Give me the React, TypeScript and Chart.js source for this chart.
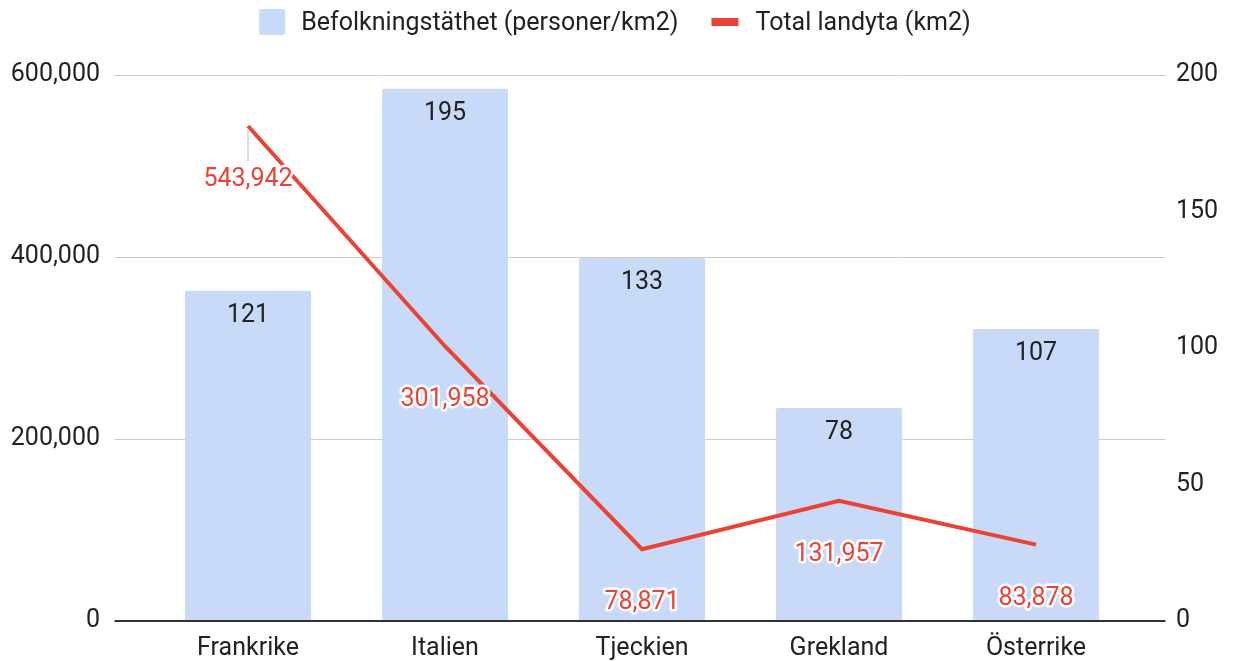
import React, { useEffect, useRef } from "react";
import { Chart, registerables } from "chart.js";

Chart.register(...registerables);

const categories = ["Frankrike", "Italien", "Tjeckien", "Grekland", "Österrike"];
const densityValues = [121, 195, 133, 78, 107];
const areaValues = [543942, 301958, 78871, 131957, 83878];
const densityLabel = "Befolkningstäthet (personer/km2)";
const areaLabel = "Total landyta (km2)";

const BAR_COLOR = "#c9daf8";
const LINE_COLOR = "#ea4335";
const TEXT_COLOR = "#222222";
const FONT = "Roboto";
const FS = 25;

const fmt = (v: number) => v.toLocaleString("en-US");

const legendPlugin = {
  id: "customLegend",
  afterDraw(chart: any) {
    const ctx = chart.ctx;
    ctx.save();
    ctx.font = `${FS}px ${FONT}`;
    const w1 = ctx.measureText(densityLabel).width;
    const w2 = ctx.measureText(areaLabel).width;
    const total = 26 + 16 + w1 + 33 + 27 + 17 + w2;
    let x = 615 - total / 2;
    const cy = 22;
    ctx.fillStyle = BAR_COLOR;
    ctx.beginPath();
    (ctx as any).roundRect(x, cy - 13, 26, 26, 2);
    ctx.fill();
    x += 26 + 16;
    ctx.fillStyle = TEXT_COLOR;
    ctx.textBaseline = "middle";
    ctx.textAlign = "left";
    ctx.fillText(densityLabel, x, cy + 2);
    x += w1 + 33;
    ctx.fillStyle = LINE_COLOR;
    ctx.fillRect(x, cy - 4, 27, 8);
    x += 27 + 17;
    ctx.fillStyle = TEXT_COLOR;
    ctx.fillText(areaLabel, x, cy + 2);
    ctx.restore();
  },
};

const gridPlugin = {
  id: "extendedGrid",
  beforeDatasetsDraw(chart: any) {
    const ctx = chart.ctx;
    const y = chart.scales.y;
    const { left, right } = chart.chartArea;
    ctx.save();
    ctx.strokeStyle = "#cccccc";
    ctx.lineWidth = 1;
    y.ticks.forEach((t: any) => {
      if (t.value === 0) return;
      const py = Math.round(y.getPixelForValue(t.value)) + 0.5;
      ctx.beginPath();
      ctx.moveTo(left - 35, py);
      ctx.lineTo(right + 31, py);
      ctx.stroke();
    });
    ctx.restore();
  },
  afterDatasetsDraw(chart: any) {
    const ctx = chart.ctx;
    const y = chart.scales.y;
    const { left, right } = chart.chartArea;
    ctx.save();
    ctx.strokeStyle = "#333333";
    ctx.lineWidth = 2;
    const py = Math.round(y.getPixelForValue(0));
    ctx.beginPath();
    ctx.moveTo(left - 35, py);
    ctx.lineTo(right + 31, py);
    ctx.stroke();

    const barMeta = chart.getDatasetMeta(0);
    const lineMeta = chart.getDatasetMeta(1);
    ctx.font = `${FS}px ${FONT}`;
    ctx.textAlign = "center";
    ctx.textBaseline = "middle";
    ctx.fillStyle = TEXT_COLOR;
    barMeta.data.forEach((bar: any, i: number) => {
      ctx.fillText(String(densityValues[i]), bar.x, bar.y + 25);
    });
    lineMeta.data.forEach((pt: any, i: number) => {
      const bar = barMeta.data[i];
      if (pt.y < bar.y) {
        ctx.strokeStyle = "#e0e0e0";
        ctx.lineWidth = 2;
        ctx.beginPath();
        ctx.moveTo(pt.x, pt.y + 3);
        ctx.lineTo(pt.x, pt.y + 35);
        ctx.stroke();
      }
      const text = fmt(areaValues[i]);
      ctx.lineJoin = "round";
      ctx.strokeStyle = "#ffffff";
      ctx.lineWidth = 5;
      ctx.strokeText(text, pt.x, pt.y + 54);
      ctx.fillStyle = LINE_COLOR;
      ctx.fillText(text, pt.x, pt.y + 54);
    });
    ctx.restore();
  },
};

export default function App() {
  const ref = useRef<HTMLCanvasElement | null>(null);
  useEffect(() => {
    document.body.style.margin = "0";
    if (!ref.current) return;
    const chart = new Chart(ref.current, {
      type: "bar",
      data: {
        labels: categories,
        datasets: [
          {
            type: "bar",
            label: densityLabel,
            data: densityValues,
            backgroundColor: BAR_COLOR,
            borderRadius: 2,
            borderSkipped: "bottom",
            categoryPercentage: 1,
            barPercentage: 0.64,
            yAxisID: "y1",
            order: 2,
          },
          {
            type: "line",
            label: areaLabel,
            data: areaValues,
            borderColor: LINE_COLOR,
            backgroundColor: LINE_COLOR,
            borderWidth: 4,
            pointRadius: 0,
            tension: 0,
            yAxisID: "y",
            order: 1,
          },
        ],
      },
      options: {
        responsive: false,
        maintainAspectRatio: false,
        animation: false,
        layout: { padding: { top: 75, left: 0, right: 0, bottom: 0 } },
        plugins: {
          legend: { display: false },
          tooltip: { enabled: false },
        },
        scales: {
          x: {
            offset: true,
            grid: { display: false, drawTicks: false },
            border: { display: false },
            ticks: { color: TEXT_COLOR, font: { family: FONT, size: FS }, padding: 13 },
            afterFit: (s: any) => {
              s.height = 40;
            },
          },
          y: {
            position: "left",
            min: 0,
            max: 600000,
            grid: {
              display: true,
              color: "rgba(0,0,0,0)",
              drawOnChartArea: false,
              drawTicks: true,
              tickLength: 45,
            },
            border: { display: false },
            ticks: {
              stepSize: 200000,
              color: TEXT_COLOR,
              font: { family: FONT, size: FS },
              padding: 4.5,
              callback: (v: any) => fmt(Number(v)),
            },
            afterFit: (s: any) => {
              s.width = 149.5;
            },
          },
          y1: {
            position: "right",
            min: 0,
            max: 200,
            grid: {
              display: true,
              color: "rgba(0,0,0,0)",
              drawOnChartArea: false,
              drawTicks: true,
              tickLength: 38,
            },
            border: { display: false },
            ticks: {
              stepSize: 50,
              color: TEXT_COLOR,
              font: { family: FONT, size: FS },
              padding: 3.5,
            },
            afterFit: (s: any) => {
              s.width = 101.5;
            },
          },
        },
      },
      plugins: [gridPlugin, legendPlugin],
    });
    return () => chart.destroy();
  }, []);
  return (
    <div style={{ width: 1236, height: 661 }}>
      <canvas ref={ref} width={1236} height={661} style={{ width: 1236, height: 661, display: "block" }} />
    </div>
  );
}
